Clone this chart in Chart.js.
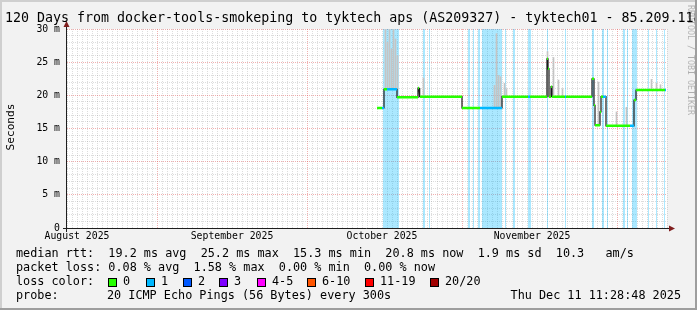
<!DOCTYPE html>
<html>
<head>
<meta charset="utf-8">
<title>SmokePing - 120 days</title>
<script src="https://cdn.jsdelivr.net/npm/chart.js@4.4.1/dist/chart.umd.min.js"></script>
<style>
  html, body { margin: 0; padding: 0; background: #f2f2f2; }
  #wrap { width: 697px; height: 310px; position: relative; }
</style>
</head>
<body>
<div id="wrap"><canvas id="chart"></canvas></div>
<script>
// ---------- Data ----------
// x = days since the start of the 120 day window, y = milliseconds

const monthLabels = ["August 2025", "September 2025", "October 2025", "November 2025"];
const monthLabelDays = [2, 33, 63, 93];     // labels sit in the middle of each month
const monthStartDays = [18, 48, 79, 110];   // red major grid lines

// median rtt, one entry per flat step
const medStart = [62.0, 63.0, 63.4, 64.0, 66.0, 70.2, 70.4, 70.6, 79.0, 82.6, 87.0, 92.2, 92.6, 96.0, 96.2, 96.4, 96.8, 97.0, 99.6, 99.8, 105.0, 105.4, 105.6, 106.6, 106.8, 107.2, 107.8, 112.6, 113.4, 113.8, 119.6];
const medEnd   = [63.0, 63.4, 64.0, 66.0, 70.2, 70.4, 70.6, 79.0, 82.6, 87.0, 92.2, 92.6, 96.0, 96.2, 96.4, 96.8, 97.0, 99.6, 99.8, 105.0, 105.4, 105.6, 106.6, 106.8, 107.2, 107.8, 112.6, 113.4, 113.8, 119.6, 119.8];
const medValue = [18.1, 18.1, 20.9, 20.9, 19.7, 21.1, 20.5, 19.8, 18.1, 18.1, 19.8, 19.8, 19.8, 25.5, 24.0, 19.8, 21.3, 19.8, 19.8, 19.8, 22.5, 18.5, 15.5, 17.5, 19.8, 19.8, 15.4, 15.4, 19.3, 20.8, 20.8];
const medLoss  = [0, 1, 0, 1, 0, 0, 0, 0, 0, 1, 0, 1, 0, 0, 0, 0, 0, 0, 1, 0, 0, 0, 0, 0, 0, 1, 0, 1, 0, 0, 1];

// smoke (spread of the pings), min..max
const smokeDay  = [63.7, 64.1, 64.5, 64.9, 65.3, 65.7, 66.1, 71.3, 85.5, 85.9, 86.3, 86.7, 87.5, 87.9, 96.1, 97.3, 98.3, 99.1, 106.3, 109.9, 111.9, 116.9, 117.9, 118.7];
const smokeLow  = [21.0, 21.0, 21.0, 21.0, 21.0, 21.0, 21.0, 19.8, 18.2, 18.2, 18.2, 18.2, 19.8, 19.8, 19.8, 19.8, 19.8, 19.8, 15.5, 15.4, 15.4, 20.8, 20.8, 20.8];
const smokeHigh = [30.0, 28.0, 30.0, 27.0, 30.0, 28.5, 26.0, 22.6, 21.5, 29.3, 23.0, 22.8, 21.8, 21.0, 26.6, 25.7, 22.3, 21.0, 22.0, 17.5, 18.2, 22.4, 21.8, 21.6];

// loss background stripes (1/20 lost)
const lossBandStart = [63.2, 71.2, 72.4, 80.2, 81.2, 82.2, 83.0, 87.6, 89.2, 92.2, 96.0, 99.6, 105.0, 107.0, 108.0, 111.2, 112.0, 113.0, 116.2, 117.8, 119.4];
const lossBandEnd   = [66.4, 71.6, 72.6, 80.6, 81.4, 82.6, 87.0, 87.8, 89.6, 92.8, 96.2, 99.8, 105.4, 107.4, 108.2, 111.6, 112.2, 114.0, 116.4, 118.0, 119.6];

const lossColors = ["#26ff00", "#00b8ff", "#0059ff", "#7e00ff", "#ff00ff", "#ff5500", "#ff0000", "#a10000"];
const lossLabels = ["0", "1", "2", "3", "4-5", "6-10", "11-19", "20/20"];

const rttLine   = "median rtt:  19.2 ms avg  25.2 ms max  15.3 ms min  20.8 ms now  1.9 ms sd  10.3   am/s";
const lossLine  = "packet loss: 0.08 % avg  1.58 % max  0.00 % min  0.00 % now";
const titleText = "120 Days from docker-tools-smokeping to tyktech aps (AS209327) - tyktech01 - 85.209.118";
const probeText = "20 ICMP Echo Pings (56 Bytes) every 300s";
const stampText = "Thu Dec 11 11:28:48 2025";


// ---------- Helpers ----------
const MONO = '"DejaVu Sans Mono", "Liberation Mono", monospace';
const GRID_MINOR = "rgba(143,143,143,0.3)";
const GRID_MAJOR = "rgba(222,79,79,0.45)";

function medianPieces(level) {
  const pts = [];
  medStart.forEach((s, i) => {
    if (medLoss[i] !== level) return;
    pts.push({ x: s, y: medValue[i] }, { x: medEnd[i], y: medValue[i] }, { x: medEnd[i], y: null });
  });
  return pts;
}

function stepPath() {
  const pts = [];
  medStart.forEach((s, i) => {
    pts.push({ x: s, y: medValue[i] }, { x: medEnd[i], y: medValue[i] });
  });
  return pts;
}

function bandPieces() {
  const pts = [];
  lossBandStart.forEach((s, i) => {
    pts.push({ x: s, y: 30 }, { x: lossBandEnd[i], y: 30 }, { x: lossBandEnd[i], y: null });
  });
  return pts;
}


// ---------- Frame, legend and decorations ----------
const smokepingFrame = {
  id: "smokepingFrame",
  beforeDraw(chart) {
    const { ctx, chartArea: a, width, height } = chart;
    ctx.save();
    ctx.fillStyle = "#f2f2f2";
    ctx.fillRect(0, 0, width, height);
    ctx.fillStyle = "#ffffff";
    ctx.fillRect(a.left, a.top, a.right - a.left, a.bottom - a.top);
    ctx.restore();
  },
  afterDraw(chart) {
    const { ctx, chartArea: a, width, height } = chart;
    ctx.save();

    // axes
    ctx.strokeStyle = "#1f1f1f";
    ctx.lineWidth = 1;
    ctx.beginPath();
    ctx.moveTo(a.left - 0.5, a.top - 3);
    ctx.lineTo(a.left - 0.5, a.bottom + 4);
    ctx.moveTo(a.left - 4, a.bottom + 0.5);
    ctx.lineTo(a.right + 3, a.bottom + 0.5);
    ctx.stroke();

    // arrows
    ctx.fillStyle = "#801f1f";
    ctx.beginPath();
    ctx.moveTo(a.left - 0.5, a.top - 8);
    ctx.lineTo(a.left - 3.5, a.top - 2);
    ctx.lineTo(a.left + 2.5, a.top - 2);
    ctx.closePath();
    ctx.fill();
    ctx.beginPath();
    ctx.moveTo(a.right + 8, a.bottom + 0.5);
    ctx.lineTo(a.right + 2, a.bottom - 2.5);
    ctx.lineTo(a.right + 2, a.bottom + 3.5);
    ctx.closePath();
    ctx.fill();

    // title
    ctx.fillStyle = "#000";
    ctx.textBaseline = "middle";
    ctx.textAlign = "left";
    ctx.font = "13.3px " + MONO;
    ctx.fillText(titleText, 5, 19);

    // y axis title
    ctx.save();
    ctx.translate(11, 127);
    ctx.rotate(-Math.PI / 2);
    ctx.textAlign = "center";
    ctx.font = "11.2px " + MONO;
    ctx.fillText("Seconds", 0, 0);
    ctx.restore();

    // watermark
    ctx.save();
    ctx.translate(690, 60);
    ctx.rotate(Math.PI / 2);
    ctx.textAlign = "center";
    ctx.fillStyle = "rgba(0,0,0,0.28)";
    ctx.font = "8.3px " + MONO;
    ctx.fillText("RRDTOOL / TOBI OETIKER", 0, 0);
    ctx.restore();

    // legend rows
    ctx.font = "11.8px " + MONO;
    ctx.fillStyle = "#000";
    ctx.fillText(rttLine, 16, 254);
    ctx.fillText(lossLine, 16, 268);

    const swatchX = [108, 146, 183, 219, 257, 307, 365, 430];
    ctx.fillText("loss color:", 16, 282);
    lossLabels.forEach((t, i) => {
      ctx.fillStyle = lossColors[i];
      ctx.fillRect(swatchX[i], 278, 8, 8);
      ctx.strokeStyle = "#000";
      ctx.strokeRect(swatchX[i] + 0.5, 278.5, 8, 8);
      ctx.fillStyle = "#000";
      ctx.fillText(t, swatchX[i] + 15, 282);
    });

    ctx.fillText("probe:", 16, 296);
    ctx.fillText(probeText, 107, 296);
    ctx.textAlign = "right";
    ctx.fillText(stampText, 681, 296);

    // 3d frame
    ctx.fillStyle = "#cfcfcf";
    ctx.fillRect(0, 0, width, 2);
    ctx.fillRect(0, 0, 2, height);
    ctx.fillStyle = "#9e9e9e";
    ctx.fillRect(0, height - 2, width, 2);
    ctx.fillRect(width - 2, 0, 2, height);

    ctx.restore();
  }
};


// ---------- Chart ----------
const tickFont = { family: MONO, size: 9.8 };

new Chart(document.getElementById("chart"), {
  type: "line",
  data: {
    datasets: [
      {
        label: "median loss 0",
        data: medianPieces(0),
        borderColor: lossColors[0],
        borderWidth: 2.5,
        pointRadius: 0,
        spanGaps: false,
        order: 0
      },
      {
        label: "median loss 1",
        data: medianPieces(1),
        borderColor: lossColors[1],
        borderWidth: 2.5,
        pointRadius: 0,
        spanGaps: false,
        order: 0
      },
      {
        label: "steps",
        data: stepPath(),
        borderColor: "#1a1a1a",
        borderWidth: 1.2,
        pointRadius: 0,
        order: 1
      },
      {
        type: "bar",
        label: "smoke",
        data: smokeDay.map((d, i) => ({ x: d, y: [smokeLow[i], smokeHigh[i]] })),
        backgroundColor: "#c4c4c4",
        barThickness: 1,
        order: 2
      },
      {
        label: "loss bands",
        data: bandPieces(),
        borderColor: "rgba(0,0,0,0)",
        borderWidth: 0,
        backgroundColor: "rgba(0,184,255,0.33)",
        fill: "origin",
        pointRadius: 0,
        spanGaps: false,
        order: 3
      }
    ]
  },
  options: {
    responsive: true,
    maintainAspectRatio: false,
    animation: false,
    devicePixelRatio: 1,
    layout: { padding: { left: 0, right: 30, top: 29, bottom: 0 } },
    plugins: { legend: { display: false }, tooltip: { enabled: false } },
    scales: {
      x: {
        type: "linear",
        min: 0,
        max: 120,
        offset: false,
        afterFit: s => { s.height = 82; },
        ticks: {
          stepSize: 1,
          autoSkip: false,
          maxTicksLimit: 200,
          maxRotation: 0,
          padding: 3,
          font: tickFont,
          color: "#000",
          callback: v => {
            const k = monthLabelDays.indexOf(v);
            return k >= 0 ? monthLabels[k] : "";
          }
        },
        grid: {
          offset: false,
          drawTicks: false,
          color: c => monthStartDays.includes(c.tick.value) ? GRID_MAJOR : GRID_MINOR
        },
        border: { display: false, dash: [1, 1] }
      },
      y: {
        min: 0,
        max: 30,
        afterFit: s => { s.width = 67; },
        ticks: {
          stepSize: 1,
          autoSkip: false,
          maxTicksLimit: 100,
          padding: 7,
          font: tickFont,
          color: "#000",
          callback: v => (v % 5 ? "" : (v === 0 ? "0" : v + " m"))
        },
        grid: {
          drawTicks: false,
          color: c => (c.tick.value % 5 === 0 ? GRID_MAJOR : GRID_MINOR)
        },
        border: { display: false, dash: [1, 1] }
      }
    }
  },
  plugins: [smokepingFrame]
});
</script>
</body>
</html>
